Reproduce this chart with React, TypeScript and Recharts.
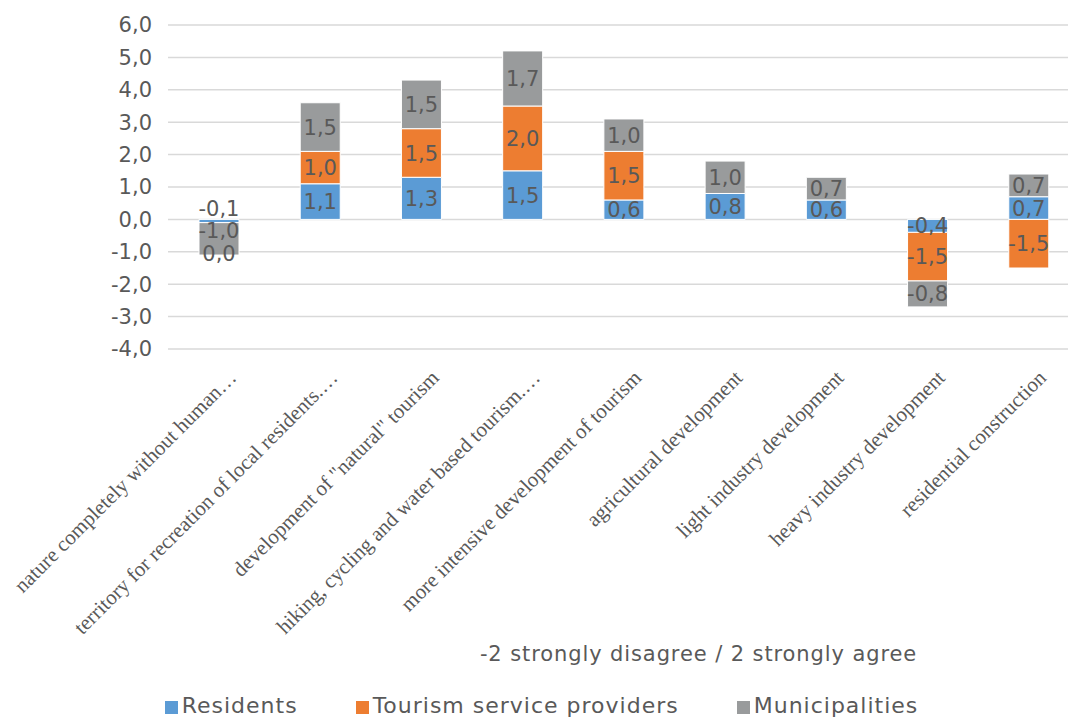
import { BarChart, Bar, XAxis, YAxis, CartesianGrid, Legend, LabelList } from 'recharts';

const categories = [
  'nature completely without human…',
  'territory for recreation of local residents.…',
  'development of "natural" tourism',
  'hiking, cycling and water based tourism.…',
  'more intensive development of tourism',
  'agricultural development',
  'light industry development',
  'heavy industry development',
  'residential construction',
];
const residents = [-0.1, 1.1, 1.3, 1.5, 0.6, 0.8, 0.6, -0.4, 0.7];
const tourism = [0.0, 1.0, 1.5, 2.0, 1.5, null, null, -1.5, -1.5];
const municipalities = [-1.0, 1.5, 1.5, 1.7, 1.0, 1.0, 0.7, -0.8, 0.7];
const yTicks = [-4, -3, -2, -1, 0, 1, 2, 3, 4, 5, 6];

const series = [
  { key: 'residents', name: 'Residents', color: '#5b9bd5' },
  { key: 'tourism', name: 'Tourism service providers', color: '#ed7d31' },
  { key: 'municipalities', name: 'Municipalities', color: '#999b9c' },
];

const data = categories.map((name, i) => ({
  name,
  residents: residents[i],
  tourism: tourism[i],
  municipalities: municipalities[i],
}));

const FONT = "'DejaVu Sans', sans-serif";
const INK = '#595959';
const fmt = (v: any) => (v == null ? '' : Number(v).toFixed(1).replace('.', ','));

function CatTick({ x, y, payload }: any) {
  return (
    <text
      x={x + 19}
      y={y + 22}
      transform={`rotate(-45, ${x + 19}, ${y + 22})`}
      textAnchor="end"
      fontFamily="'Liberation Serif', serif"
      fontSize={21}
      fill={INK}
    >
      {payload.value}
    </text>
  );
}

function lbl(x: number, y: number, value: any, key?: string) {
  return (
    <text key={key} x={x} y={y} dy="0.36em" textAnchor="middle" fill={INK} fontSize={21} fontFamily={FONT}>
      {fmt(value)}
    </text>
  );
}

// centre labels like Excel; thin segments get nudged out of the way.
// a zero tourism segment has no height, so its label is drawn by the segment below it
function SegLabel({ x, y, width, height, value, index, seriesKey }: any) {
  if (value == null) return null;
  const h = Number(height) || 0;
  const cx = Number(x) + Number(width) / 2;
  const top = Math.min(Number(y), Number(y) + h);
  const bottom = Math.max(Number(y), Number(y) + h);
  if (seriesKey === 'tourism' && value === 0) return null;
  let cy = Number(y) + h / 2;
  if (Math.abs(h) < 12) cy = top - 11;
  else if (seriesKey === 'municipalities' && tourism[index] === 0) cy -= 8;
  return (
    <g>
      {lbl(cx, cy, value)}
      {seriesKey === 'municipalities' && tourism[index] === 0 ? lbl(cx, bottom - 2, tourism[index]) : null}
    </g>
  );
}

function LegendContent() {
  return (
    <div style={{ display: 'flex', justifyContent: 'center', height: 24, lineHeight: '24px', fontFamily: FONT, fontSize: 22, letterSpacing: 1, color: INK, paddingLeft: 4 }}>
      {series.map((s, i) => (
        <span key={s.key} style={{ marginRight: i < series.length - 1 ? 58 : 0, display: 'flex', alignItems: 'center' }}>
          <span style={{ width: 13, height: 13, background: s.color, marginRight: 4, marginTop: 2 }} />
          {s.name}
        </span>
      ))}
    </div>
  );
}

export default function App() {
  return (
    <div style={{ position: 'absolute', left: 0, top: 0, width: 1068, height: 718, overflow: 'hidden', background: '#fff' }}>
      <BarChart width={1079} height={718} data={data} stackOffset="sign" barSize={40} margin={{ top: 25, right: 0, left: 0, bottom: 0 }}>
        <CartesianGrid vertical={false} stroke="#d9d9d9" strokeWidth={1.5} />
        <XAxis
          dataKey="name"
          interval={0}
          height={345}
          tick={<CatTick />}
          tickLine={false}
          axisLine={false}
          label={{ value: '-2 strongly disagree / 2 strongly agree', position: 'insideBottom', offset: 33, dx: 75, fill: INK, fontSize: 21, fontFamily: FONT, letterSpacing: 0.9 }}
        />
        <YAxis
          width={168}
          domain={[-4, 6]}
          ticks={yTicks}
          tickFormatter={fmt}
          tickLine={false}
          axisLine={false}
          tickMargin={10}
          tick={{ fill: INK, fontSize: 21, fontFamily: FONT }}
        />
        <Legend verticalAlign="bottom" content={<LegendContent />} />
        {series.map(s => (
          <Bar key={s.key} dataKey={s.key} name={s.name} stackId="a" fill={s.color} stroke="#fff" strokeWidth={1} isAnimationActive={false}>
            <LabelList dataKey={s.key} content={<SegLabel seriesKey={s.key} />} />
          </Bar>
        ))}
      </BarChart>
    </div>
  );
}
